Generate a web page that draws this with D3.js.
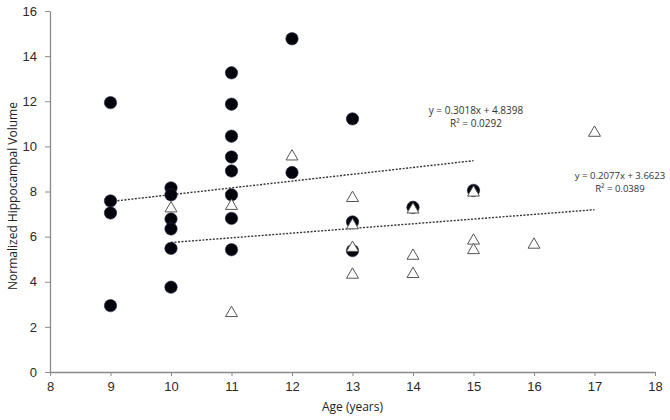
<!DOCTYPE html>
<html>
<head>
<meta charset="utf-8">
<script src="https://cdn.jsdelivr.net/npm/d3@7"></script>
<style>
  body { margin: 0; background: #fff; }
  svg { font-family: "Open Sans", "Noto Sans", sans-serif; }
</style>
</head>
<body>
<svg id="chart" width="670" height="420"></svg>
<script>
// filled circles series
var ageA = [9, 9, 9, 9,
  10, 10, 10, 10, 10, 10,
  11, 11, 11, 11, 11, 11, 11, 11,
  12, 12,
  13, 13, 13,
  14,
  15];
var volA = [11.94, 7.58, 7.05, 2.94,
  8.16, 7.85, 6.78, 6.34, 5.48, 3.76,
  13.26, 11.87, 10.45, 9.53, 8.91, 7.85, 6.81, 5.42,
  14.77, 8.84,
  11.22, 6.65, 5.38,
  7.3,
  8.05];

// open triangles series
var ageB = [10, 11, 11, 12, 13, 13, 13, 13, 14, 14, 14, 15, 15, 15, 16, 17];
var volB = [7.25, 7.36, 2.61, 9.55, 7.71, 6.5, 5.5, 4.31, 7.2, 5.15, 4.34, 7.95, 5.82, 5.4, 5.64, 10.6];

// trendlines: [slope, intercept, xStart, xEnd]
var trendA = [0.3018, 4.8398, 9, 15];
var trendB = [0.2077, 3.6623, 10, 17];
var labelsA = ["y = 0.3018x + 4.8398", "R\u00b2 = 0.0292"];
var labelsB = ["y = 0.2077x + 3.6623", "R\u00b2 = 0.0389"];

var xTicks = [8, 9, 10, 11, 12, 13, 14, 15, 16, 17, 18];
var yTicks = [0, 2, 4, 6, 8, 10, 12, 14, 16];

var svg = d3.select('#chart');
var margin = {left: 50, right: 15, top: 11, bottom: 48};
var width = 670, height = 420;

var x = d3.scaleLinear().domain([8, 18]).range([margin.left, width - margin.right]);
var y = d3.scaleLinear().domain([0, 16]).range([height - margin.bottom, margin.top]);

var axisColor = '#8a8a8a';

// x axis
var gx = svg.append('g')
  .attr('transform', 'translate(0,' + y(0) + ')')
  .call(d3.axisBottom(x).tickValues(xTicks).tickSize(4).tickPadding(6).tickSizeOuter(0));
// y axis
var gy = svg.append('g')
  .attr('transform', 'translate(' + x(8) + ',0)')
  .call(d3.axisLeft(y).tickValues(yTicks).tickSize(5).tickPadding(8).tickSizeOuter(0));

[gx, gy].forEach(function(g){
  g.select('.domain').attr('stroke', axisColor).attr('stroke-width', 1.3);
  g.selectAll('.tick line').attr('stroke', axisColor);
  g.selectAll('.tick text').attr('fill', '#2a2a2a').attr('font-size', 13);
});

// axis titles
svg.append('text')
  .attr('x', x(13))
  .attr('y', 411)
  .attr('text-anchor', 'middle')
  .attr('font-size', 12)
  .attr('fill', '#222')
  .text('Age (years)');

svg.append('text')
  .attr('transform', 'translate(17,' + y(7.8) + ') rotate(-90)')
  .attr('text-anchor', 'middle')
  .attr('font-size', 12)
  .attr('fill', '#222')
  .text('Normalized Hippocampal Volume');

// trendlines
function drawTrend(t){
  svg.append('line')
    .attr('x1', x(t[2])).attr('y1', y(t[0] * t[2] + t[1]))
    .attr('x2', x(t[3])).attr('y2', y(t[0] * t[3] + t[1]))
    .attr('stroke', '#333')
    .attr('stroke-width', 1.4)
    .attr('stroke-dasharray', '2,1.5');
}
drawTrend(trendA);
drawTrend(trendB);

// circles
svg.append('g').selectAll('circle')
  .data(ageA)
  .enter().append('circle')
  .attr('cx', function(d){ return x(d); })
  .attr('cy', function(d, i){ return y(volA[i]); })
  .attr('r', 6.2)
  .attr('fill', '#03030c')
  .attr('stroke', '#2a2a4a')
  .attr('stroke-width', 0.6);

// triangles
var tri = d3.symbol().type(d3.symbolTriangle).size(62);
svg.append('g').selectAll('path')
  .data(ageB)
  .enter().append('path')
  .attr('d', tri)
  .attr('transform', function(d, i){ return 'translate(' + x(d) + ',' + y(volB[i]) + ')'; })
  .attr('fill', '#fff')
  .attr('stroke', '#555')
  .attr('stroke-width', 1);

// equation labels
function drawLabels(lines, cx, cy, fs){
  svg.append('g').selectAll('text')
    .data(lines)
    .enter().append('text')
    .attr('x', cx)
    .attr('y', function(d, i){ return cy + i * 13; })
    .attr('text-anchor', 'middle')
    .attr('font-size', fs)
    .attr('fill', '#333')
    .text(function(d){ return d; });
}
drawLabels(labelsA, 476, 114, 10);
drawLabels(labelsB, 620, 179, 9.6);
</script>
</body>
</html>
